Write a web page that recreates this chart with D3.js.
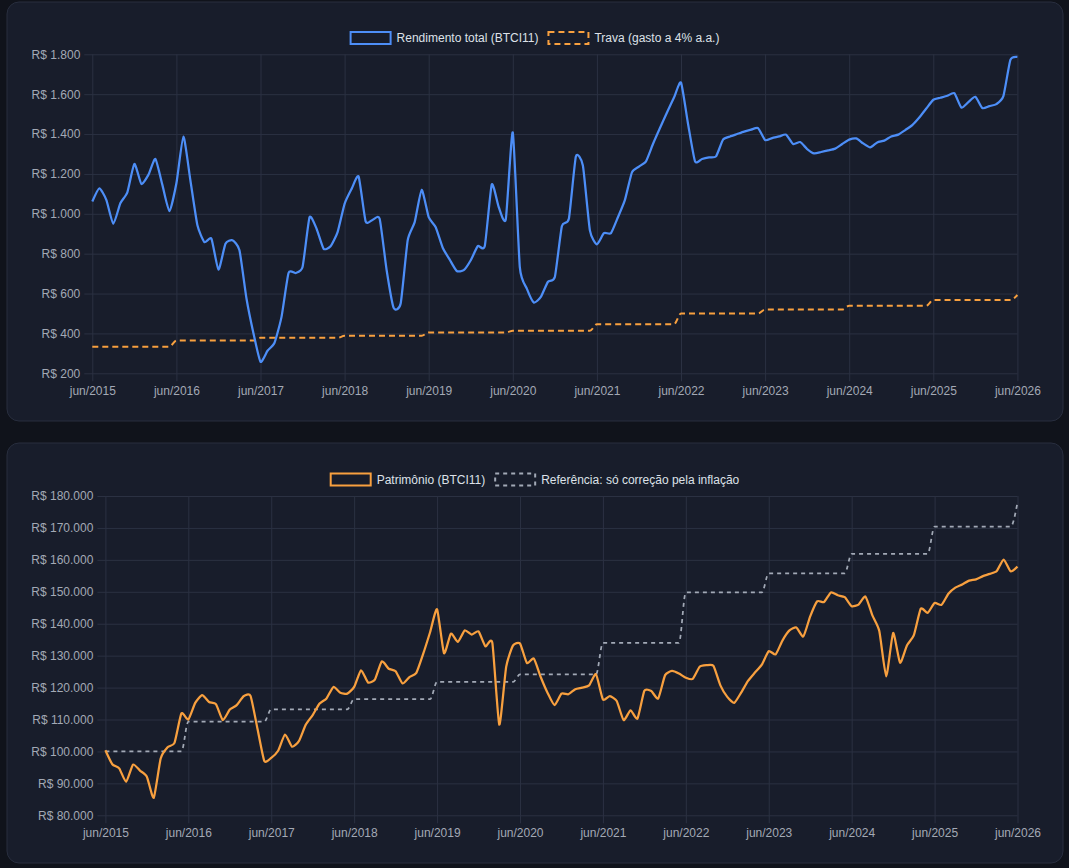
<!DOCTYPE html>
<html>

<head>
    <meta charset="utf-8">
    <title>BTCI11</title>
    <script src="https://cdn.jsdelivr.net/npm/d3@7"></script>
    <style>
        body { margin: 0; background: #10131b; }
        svg { display: block; }
    </style>
</head>

<body>
    <svg width="1069" height="868" id="mainsvg"></svg>
    <script>
        // ---- data (monthly, jun/2015 .. jun/2026) ----
        const tickLabels = ['jun/2015', 'jun/2016', 'jun/2017', 'jun/2018', 'jun/2019', 'jun/2020',
            'jun/2021', 'jun/2022', 'jun/2023', 'jun/2024', 'jun/2025', 'jun/2026'];

        const rendimento = [
            1062, 1128, 1070, 950, 1053, 1108, 1250, 1150, 1195, 1275, 1145, 1013,
            1153, 1387, 1167, 942, 858, 875, 720, 850, 867, 817, 575, 400,
            258, 313, 353, 483, 703, 703, 733, 983, 925, 825, 837, 908,
            1050, 1125, 1187, 962, 970, 975, 717, 528, 550, 867, 958, 1120,
            983, 933, 830, 770, 713, 717, 767, 838, 838, 1147, 1033, 972,
            1408, 733, 625, 555, 583, 658, 683, 938, 975, 1287, 1242, 917,
            847, 903, 903, 983, 1070, 1208, 1237, 1263, 1350, 1430, 1508, 1583,
            1658, 1452, 1263, 1275, 1283, 1288, 1372, 1388, 1400, 1412, 1422, 1430,
            1370, 1380, 1388, 1397, 1350, 1360, 1325, 1303, 1310, 1318, 1327, 1350,
            1372, 1378, 1353, 1333, 1358, 1367, 1388, 1397, 1420, 1445, 1483, 1528,
            1572, 1582, 1592, 1605, 1533, 1560, 1587, 1530, 1540, 1550, 1590, 1772,
            1787];

        const trava = [
            333, 333, 333, 333, 333, 333, 333, 333, 333, 333, 333, 333,
            364, 364, 364, 364, 364, 364, 364, 364, 364, 364, 364, 364,
            378, 378, 378, 378, 378, 378, 378, 378, 378, 378, 378, 378,
            388, 388, 388, 388, 388, 388, 388, 388, 388, 388, 388, 388,
            405, 405, 405, 405, 405, 405, 405, 405, 405, 405, 405, 405,
            413, 413, 413, 413, 413, 413, 413, 413, 413, 413, 413, 413,
            446, 446, 446, 446, 446, 446, 446, 446, 446, 446, 446, 446,
            500, 500, 500, 500, 500, 500, 500, 500, 500, 500, 500, 500,
            520, 520, 520, 520, 520, 520, 520, 520, 520, 520, 520, 520,
            539, 539, 539, 539, 539, 539, 539, 539, 539, 539, 539, 539,
            568, 568, 568, 568, 568, 568, 568, 568, 568, 568, 568, 568,
            593];

        const patrimonio = [
            100400, 96000, 94700, 90500, 95900, 94000, 92100, 85500, 97800, 101300, 102700, 111900,
            110000, 115200, 117600, 115500, 114800, 109800, 113100, 114500, 117300, 117400, 107200, 97000,
            98000, 100200, 105300, 101500, 103200, 108400, 111400, 115000, 116600, 120200, 118400, 118100,
            120200, 125400, 121600, 122500, 128200, 125900, 125100, 121300, 123300, 124600, 130600, 137400,
            144500, 130800, 136900, 134300, 137900, 136600, 137600, 132900, 134000, 108400, 126500, 133200,
            133800, 127700, 129100, 123300, 118300, 114500, 118100, 117900, 119500, 120000, 120700, 124200,
            116300, 117300, 115800, 109800, 112900, 110300, 119000, 118900, 116600, 123900, 125200, 124400,
            123100, 122700, 126500, 127000, 126800, 120700, 117100, 115200, 118400, 122100, 124700, 127200,
            131400, 130400, 134800, 137900, 138800, 136000, 142300, 147000, 146800, 149800, 148900, 148300,
            145500, 146000, 148500, 142600, 137700, 123500, 137100, 127800, 133200, 136400, 144700, 143400,
            146500, 145900, 149400, 151300, 152300, 153500, 153900, 154900, 155600, 156500, 160100, 156400,
            157900];

        const referencia = [
            100000, 100000, 100000, 100000, 100000, 100000, 100000, 100000, 100000, 100000, 100000, 100000,
            109300, 109300, 109300, 109300, 109300, 109300, 109300, 109300, 109300, 109300, 109300, 109300,
            113200, 113200, 113200, 113200, 113200, 113200, 113200, 113200, 113200, 113200, 113200, 113200,
            116400, 116400, 116400, 116400, 116400, 116400, 116400, 116400, 116400, 116400, 116400, 116400,
            121800, 121800, 121800, 121800, 121800, 121800, 121800, 121800, 121800, 121800, 121800, 121800,
            124100, 124100, 124100, 124100, 124100, 124100, 124100, 124100, 124100, 124100, 124100, 124100,
            134000, 134000, 134000, 134000, 134000, 134000, 134000, 134000, 134000, 134000, 134000, 134000,
            149800, 149800, 149800, 149800, 149800, 149800, 149800, 149800, 149800, 149800, 149800, 149800,
            155800, 155800, 155800, 155800, 155800, 155800, 155800, 155800, 155800, 155800, 155800, 155800,
            161900, 161900, 161900, 161900, 161900, 161900, 161900, 161900, 161900, 161900, 161900, 161900,
            170400, 170400, 170400, 170400, 170400, 170400, 170400, 170400, 170400, 170400, 170400, 170400,
            178000];

        const topTicks = [200, 400, 600, 800, 1000, 1200, 1400, 1600, 1800];
        const bottomTicks = [80000, 90000, 100000, 110000, 120000, 130000, 140000, 150000, 160000, 170000, 180000];

        // ---- style ----
        const FONT = "'Helvetica Neue', Helvetica, Arial, 'Liberation Sans', sans-serif";
        const BLUE = '#4d8ef7';
        const ORANGE = '#f8a03f';
        const GRAY = '#a2a9b6';
        const GRID = '#2b3142';
        const TICK_TEXT = '#a3a9b5';

        const ptBR = d3.formatLocale({ decimal: ',', thousands: '.', grouping: [3], currency: ['R$ ', ''] });
        const brl = ptBR.format('$,.0f');

        const svg = d3.select('#mainsvg');

        const drawPanel = function (cfg) {
            const g = svg.append('g');

            // card
            g.append('rect')
                .attr('x', cfg.card.x).attr('y', cfg.card.y)
                .attr('width', cfg.card.w).attr('height', cfg.card.h)
                .attr('rx', 12)
                .attr('fill', '#181d2b')
                .attr('stroke', '#282e3e')
                .attr('stroke-width', 1);

            const { left, right, top, bottom } = cfg.plot;
            const x = d3.scaleLinear().domain([0, cfg.series[0].values.length - 1]).range([left, right]);
            const y = d3.scaleLinear().domain(cfg.domain).range([bottom, top]);

            // y axis + horizontal grid
            const yAxis = g.append('g')
                .attr('transform', `translate(${left},0)`)
                .call(d3.axisLeft(y).tickValues(cfg.yTicks).tickFormat(brl)
                    .tickSizeInner(-(right - left)).tickSizeOuter(0).tickPadding(12));
            yAxis.select('.domain').remove();
            yAxis.selectAll('line').attr('x1', -8).attr('stroke', GRID);
            yAxis.selectAll('text')
                .attr('fill', TICK_TEXT).attr('font-family', FONT).attr('font-size', 12);

            // x axis + vertical grid
            const xAxis = g.append('g')
                .attr('transform', `translate(0,${bottom})`)
                .call(d3.axisBottom(x).tickValues(tickLabels.map((d, i) => i * 12))
                    .tickFormat((d, i) => tickLabels[i])
                    .tickSizeInner(-(bottom - top)).tickSizeOuter(0).tickPadding(13.5));
            xAxis.select('.domain').remove();
            xAxis.selectAll('line').attr('y1', 8).attr('stroke', GRID);
            xAxis.selectAll('text')
                .attr('fill', TICK_TEXT).attr('font-family', FONT).attr('font-size', 12);

            // lines (drawn last series first so the main line stays on top)
            // main series: light tension; step series: monotone so the steps don't overshoot
            cfg.series.slice().reverse().forEach(s => {
                const line = d3.line()
                    .x((d, i) => x(i))
                    .y(d => y(d))
                    .curve(s.dash ? d3.curveMonotoneX : d3.curveCardinal.tension(0.45));
                g.append('path')
                    .datum(s.values)
                    .attr('fill', 'none')
                    .attr('stroke', s.color)
                    .attr('stroke-width', s.width)
                    .attr('stroke-dasharray', s.dash || null)
                    .attr('stroke-linejoin', 'round')
                    .attr('d', line);
            });

            // legend, centred on the card
            const lg = g.append('g');
            const items = lg.selectAll('g.item')
                .data(cfg.series)
                .join('g')
                .attr('class', 'item');
            items.append('rect')
                .attr('width', 40).attr('height', 12)
                .attr('y', cfg.legendY - 6)
                .attr('fill', 'none')
                .attr('stroke', d => d.color)
                .attr('stroke-width', 2)
                .attr('stroke-dasharray', d => d.dash || null);
            items.append('text')
                .attr('x', 46)
                .attr('y', cfg.legendY)
                .attr('dy', '0.35em')
                .attr('fill', '#dde1e8')
                .attr('font-family', FONT)
                .attr('font-size', 12)
                .text(d => d.name);

            let offset = 0;
            const widths = [];
            items.each(function () {
                const w = 46 + d3.select(this).select('text').node().getComputedTextLength();
                widths.push(w);
            });
            const total = d3.sum(widths) + 10 * (widths.length - 1);
            const startX = cfg.card.x + cfg.card.w / 2 - total / 2;
            items.attr('transform', (d, i) => {
                const t = `translate(${startX + offset},0)`;
                offset += widths[i] + 10;
                return t;
            });
        };

        drawPanel({
            card: { x: 7, y: 2, w: 1056, h: 419 },
            plot: { left: 92.3, right: 1017.4, top: 54.3, bottom: 373.3 },
            domain: [200, 1800],
            yTicks: topTicks,
            legendY: 38,
            series: [
                { name: 'Rendimento total (BTCI11)', values: rendimento, color: BLUE, width: 2.25 },
                { name: 'Trava (gasto a 4% a.a.)', values: trava, color: ORANGE, width: 2, dash: '6,4' }
            ]
        });

        drawPanel({
            card: { x: 7, y: 443, w: 1056, h: 420 },
            plot: { left: 105.4, right: 1017.5, top: 496, bottom: 815.3 },
            domain: [80000, 180000],
            yTicks: bottomTicks,
            legendY: 479.5,
            series: [
                { name: 'Patrimônio (BTCI11)', values: patrimonio, color: ORANGE, width: 2.25 },
                { name: 'Referência: só correção pela inflação', values: referencia, color: GRAY, width: 1.75, dash: '4,4' }
            ]
        });
    </script>
</body>

</html>
